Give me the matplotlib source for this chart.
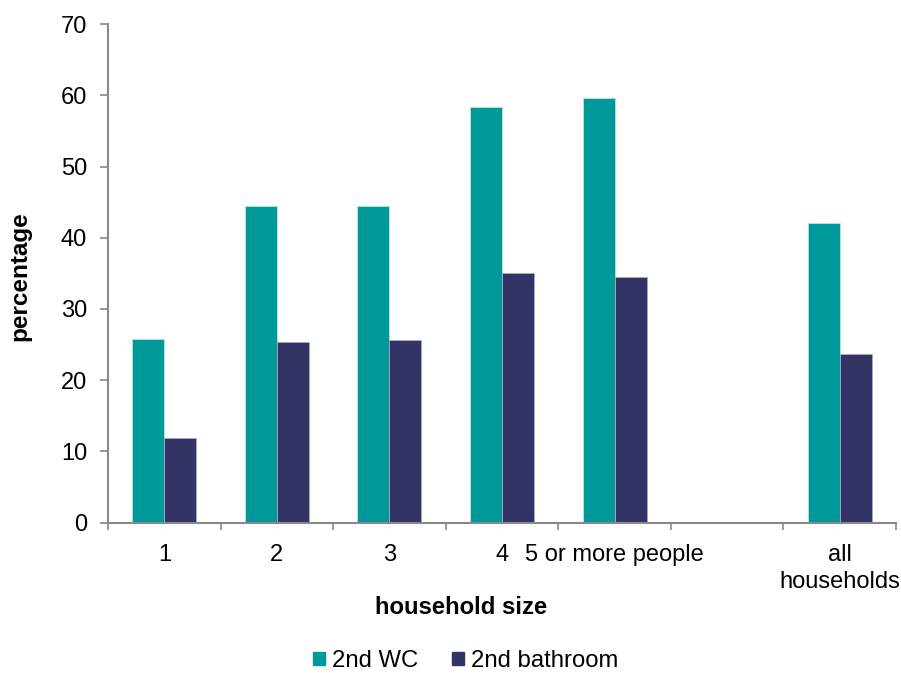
import numpy as np
import matplotlib.pyplot as plt
from matplotlib.patches import Patch

plt.rcParams['font.family'] = ['Liberation Sans', 'DejaVu Sans']

# household size categories (one blank slot before "all households")
categories = ['1', '2', '3', '4', '5 or more people', '', 'all\nhouseholds']
wc = [25.8, 44.4, 44.4, 58.4, 59.6, np.nan, 42.1]
bathroom = [11.9, 25.3, 25.6, 35.1, 34.5, np.nan, 23.7]

teal = '#009999'
navy = '#333366'
grey = '#898989'

fig = plt.figure(figsize=(9.01, 6.73), dpi=100)
ax = fig.add_axes([0.1199, 0.2233, 0.8746, 0.7410])

x = np.arange(len(categories))
w = 0.284
ax.bar(x - w / 2, wc, w, color=teal, edgecolor='#bfe3e3', linewidth=0.6)
ax.bar(x + w / 2, bathroom, w, color=navy, edgecolor='#a9a9c4', linewidth=0.6)

ax.set_xlim(-0.5, len(categories) - 0.5)
ax.set_ylim(0, 70)
ax.set_yticks(np.arange(0, 71, 10))

# labels on category centres, tick marks on category boundaries
ax.set_xticks(x)
ax.set_xticklabels(categories, fontsize=17, linespacing=1.3)
ax.set_xticks(np.arange(-0.5, len(categories)), minor=True)
ax.tick_params(axis='x', which='major', length=0, pad=15)
ax.tick_params(axis='x', which='minor', length=5, width=1.2, color=grey)
ax.tick_params(axis='y', length=6, width=1.2, color=grey, labelsize=17, pad=9)

for s in ['top', 'right']:
    ax.spines[s].set_visible(False)
for s in ['left', 'bottom']:
    ax.spines[s].set_color(grey)
    ax.spines[s].set_linewidth(1.5)

fig.text(20 / 901, 1 - 276 / 673, 'percentage', rotation=90, fontsize=17.5,
         fontweight='bold', ha='center', va='center')
fig.text(461 / 901, 1 - 608 / 673, 'household size', fontsize=17.2,
         fontweight='bold', ha='center', va='center')

handles = [Patch(color=teal, label='2nd WC'), Patch(color=navy, label='2nd bathroom')]
fig.legend(handles=handles, loc='center', bbox_to_anchor=(466 / 901, 1 - 661 / 673),
           ncol=2, frameon=False, fontsize=17.2, handlelength=0.5, handleheight=0.5,
           handletextpad=0.3, columnspacing=1.4, borderpad=0)

fig.savefig('out.png', dpi=100)
